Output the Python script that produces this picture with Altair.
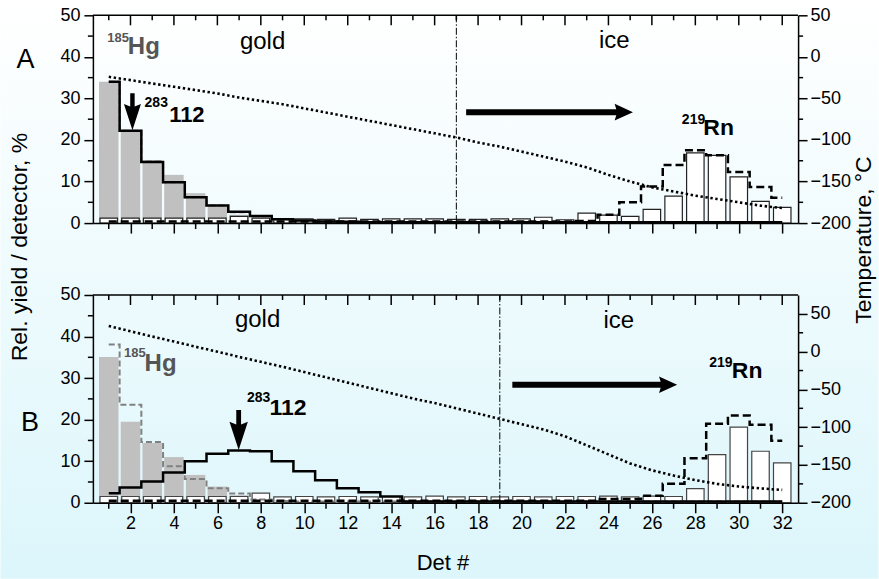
import altair as alt
import pandas as pd

# ---------------- data ----------------
dets = list(range(1, 33))
major_x = list(range(2, 33, 2))
minor_x = list(range(1, 33, 2))
left_major = [0, 10, 20, 30, 40, 50]
left_minor = [5, 15, 25, 35, 45]
temp_major = [-200, -150, -100, -50, 0, 50]
temp_minor = [-175, -125, -75, -25, 25]

# Panel A
a_hg_data = [34.0, 22.0, 15.2, 11.6, 7.2, 4.0, 2.0, 1.0, 0.5, 0.3] + [0.0] * 22
a_rn_data = [1.2, 1.2, 1.2, 1.2, 1.2, 1.2, 1.6, 1.2, 0.9, 1.0, 0.9, 1.2, 0.9, 1.0, 1.0, 1.0,
             0.9, 0.9, 1.0, 1.0, 1.4, 0.8, 2.4, 1.9, 1.6, 3.3, 6.5, 16.9, 16.3, 11.1, 5.2, 3.8]
a_hg_sim = [34.0, 22.2, 14.8, 9.8, 6.2, 4.2, 2.6, 1.6, 0.9, 0.6, 0.4, 0.3] + [0.2] * 20
a_e112 = [34.0, 22.2, 14.7, 9.8, 6.2, 4.2, 2.7, 1.7, 0.9, 0.6, 0.4, 0.3] + [0.2] * 20
a_rn_sim = [0.4] * 22 + [0.5, 2.0, 5.0, 8.8, 14.0, 17.5, 16.3, 12.3, 8.7, 6.1]
a_temp = [-24, -28, -32, -36, -40, -44, -49, -53, -57, -62, -67, -72, -77, -82, -87, -92,
          -97, -103, -108, -114, -120, -126, -133, -142, -150, -157, -162, -167, -171, -175, -179, -182]

# Panel B
b_hg_data = [35.1, 19.5, 14.4, 11.0, 6.7, 3.9, 1.8, 0.6] + [0.0] * 24
b_rn_data = [1.5] * 7 + [2.3] + [1.4, 1.5, 1.4, 1.5, 1.4, 1.5, 1.4, 1.6, 1.4, 1.5, 1.4, 1.5, 1.4, 1.5,
                                 1.5, 1.6, 1.4, 1.6, 1.5, 3.4, 11.6, 18.2, 12.4, 9.6]
b_hg_sim = [38.1, 23.6, 14.6, 8.8, 5.7, 3.5, 2.2, 0.8, 0.4] + [0.3] * 23
b_e112 = [2.3, 3.7, 5.1, 7.3, 10.0, 11.8, 12.6, 12.4, 10.0, 7.6, 5.4, 3.5, 2.5, 1.5] + [0.3] * 18
b_rn_sim = [0.5] * 23 + [0.9, 0.9, 1.7, 4.6, 10.7, 19.0, 21.0, 18.8, 14.9]
b_temp = [34, 27, 20, 13.5, 6.5, 0, -7, -13.5, -20, -27, -34, -41, -48, -55, -62, -68,
          -75, -82, -89, -96, -103, -112, -124, -136, -148, -157, -164, -170, -175, -178.5, -181, -183]

# annotations (data coordinates: detector #, yield %)
a_gold = {"t": ["gold", "ice"], "x": [8.08, 24.27], "y": [41.9, 42.1]}
a_hg = {"t": ["185", "Hg"], "x": [0.93, 1.88], "y": [43.5, 40.8], "fs": [13, 24]}
a_bold = {"t": ["283", "112", "219", "Rn"], "x": [2.65, 3.78, 27.38, 28.37],
          "y": [27.9, 24.3, 23.8, 21.2], "fs": [14, 22, 14, 23]}
a_down = {"x": [2.09], "y": [26.8], "s": [37]}
a_right = {"x": [21.29], "y": [26.7], "s": [167]}

b_gold = {"t": ["gold", "ice"], "x": [7.85, 24.48], "y": [42.3, 42.1]}
b_hg = {"t": ["185", "Hg"], "x": [1.70, 2.65], "y": [35.0, 31.6], "fs": [13, 24]}
b_bold = {"t": ["283", "112", "219", "Rn"], "x": [7.36, 8.40, 28.64, 29.68],
          "y": [24.3, 21.2, 32.7, 30.0], "fs": [14, 23, 14, 23]}
b_down = {"x": [6.98], "y": [17.5], "s": [40]}
b_right = {"x": [23.37], "y": [28.4], "s": [165]}

# ---------------- layout ----------------
W, H = 706, 208
LEFT, TOP = 92.5, 15
PAGE_W, PAGE_H = 879, 579
GAP = 72
FONT = "Liberation Sans"

DOWN_ARROW = "M-0.12,-1 L0.12,-1 L0.12,-0.28 L0.46,-0.42 L0,1 L-0.46,-0.42 L-0.12,-0.28 Z"
RIGHT_ARROW = "M-1,-0.036 L0.8,-0.036 L0.78,-0.1 L1,0 L0.78,0.1 L0.8,0.036 L-1,0.036 Z"

xscale = alt.Scale(domain=[0.5, 32.5], nice=False, zero=False)
yscale = alt.Scale(domain=[0, 50], nice=False, zero=False)

AX = dict(labelFont=FONT, labelFontSize=18, labelColor="black", tickColor="black",
          tickWidth=1.5, domainColor="black", domainWidth=1.5, grid=False, zindex=2,
          labelFlush=False, labelOverlap=False)


def x_enc(field, labels):
    return alt.X(f"{field}:Q", scale=xscale, title=None,
                 axis=alt.Axis(values=major_x, tickSize=10, labels=labels, labelPadding=2,
                               format="d", **AX))


def y_left(field):
    return alt.Y(f"{field}:Q", scale=yscale, title=None,
                 axis=alt.Axis(values=left_major, tickSize=9, labelPadding=4, **AX))


def one():
    return alt.Chart(pd.DataFrame({"a": [0]}))


def panel(hg, rn, hgsim, e112, rnsim, temp, tdomain, vline, gold, hgl, bold, down, right,
          labels, bar_stroke, extra):
    df = pd.DataFrame({"det": dets, "hg": hg, "rn": rn, "hgsim": hgsim, "e112": e112,
                       "rnsim": rnsim, "temp": temp})
    base = alt.Chart(df)
    X = lambda f="det": x_enc(f, labels)

    layers = list(extra)
    layers.append(base.mark_bar(size=19.5, color="#c0c0c0").encode(x=X(), y=y_left("hg")))
    layers.append(base.mark_bar(size=17.5, fill="white", stroke=bar_stroke, strokeWidth=1.2)
                  .encode(x=X(), y=y_left("rn")))
    layers.append(base.mark_line(interpolate="step", color="#808080", strokeWidth=2,
                                 strokeDash=[6, 3]).encode(x=X(), y=y_left("hgsim")))
    layers.append(base.mark_line(interpolate="step", color="black", strokeWidth=2.5,
                                 strokeDash=[8, 4]).encode(x=X(), y=y_left("rnsim")))
    layers.append(base.mark_line(interpolate="step", color="black", strokeWidth=2.5)
                  .encode(x=X(), y=y_left("e112")))
    layers.append(alt.Chart(pd.DataFrame({"x": [vline]}))
                  .mark_rule(color="black", strokeWidth=1, strokeDash=[7, 2, 1.5, 2])
                  .encode(x=X("x")))
    # frame top + ticks
    layers.append(one().mark_rule(color="black", strokeWidth=1.5)
                  .encode(x=alt.value(0), x2=alt.value(W), y=alt.value(0)))
    layers.append(alt.Chart(pd.DataFrame({"x": major_x})).mark_rule(color="black", strokeWidth=1.5)
                  .encode(x=X("x"), y=alt.value(0), y2=alt.value(10)))
    layers.append(alt.Chart(pd.DataFrame({"x": minor_x})).mark_rule(color="black", strokeWidth=1.5)
                  .encode(x=X("x"), y=alt.value(0), y2=alt.value(5)))
    layers.append(alt.Chart(pd.DataFrame({"x": minor_x})).mark_rule(color="black", strokeWidth=1.5)
                  .encode(x=X("x"), y=alt.value(H), y2=alt.value(H + 6)))
    layers.append(alt.Chart(pd.DataFrame({"v": left_minor})).mark_rule(color="black", strokeWidth=1.5)
                  .encode(y=y_left("v"), x=alt.value(-5), x2=alt.value(0)))
    # text annotations
    layers.append(alt.Chart(pd.DataFrame(gold)).mark_text(align="center", baseline="alphabetic",
                                                           fontSize=24, font=FONT, color="black")
                  .encode(x=X("x"), y=y_left("y"), text="t:N"))
    layers.append(alt.Chart(pd.DataFrame(hgl)).mark_text(align="left", baseline="alphabetic",
                                                          fontWeight="bold", font=FONT, color="#555555")
                  .encode(x=X("x"), y=y_left("y"), text="t:N", size=alt.Size("fs:Q", scale=None)))
    layers.append(alt.Chart(pd.DataFrame(bold)).mark_text(align="left", baseline="alphabetic",
                                                           fontWeight="bold", font=FONT, color="black")
                  .encode(x=X("x"), y=y_left("y"), text="t:N", size=alt.Size("fs:Q", scale=None)))
    # arrows
    layers.append(alt.Chart(pd.DataFrame(down)).mark_point(shape=DOWN_ARROW, filled=True, color="black",
                                                            opacity=1, strokeWidth=0)
                  .encode(x=X("x"), y=y_left("y"),
                          size=alt.Size("s2:Q", scale=None)).transform_calculate(s2="datum.s*datum.s"))
    layers.append(alt.Chart(pd.DataFrame(right)).mark_point(shape=RIGHT_ARROW, filled=True, color="black",
                                                             opacity=1, strokeWidth=0)
                  .encode(x=X("x"), y=y_left("y"),
                          size=alt.Size("s2:Q", scale=None)).transform_calculate(s2="datum.s*datum.s"))

    left_group = alt.layer(*layers)

    tscale = alt.Scale(domain=tdomain, nice=False, zero=False)
    Yt = lambda f: alt.Y(f"{f}:Q", scale=tscale, title=None,
                         axis=alt.Axis(orient="right", values=temp_major, tickSize=9, labelPadding=3, **AX))
    temp_line = base.mark_line(color="black", strokeWidth=2.6, strokeDash=[2.4, 2.6]).encode(x=X(), y=Yt("temp"))
    tminor = (alt.Chart(pd.DataFrame({"t": temp_minor})).mark_rule(color="black", strokeWidth=1.5)
              .encode(y=Yt("t"), x=alt.value(W), x2=alt.value(W + 5)))
    right_group = alt.layer(temp_line, tminor)

    return alt.layer(left_group, right_group).resolve_scale(y="independent").properties(width=W, height=H)


gradient = alt.Gradient(gradient="linear", x1=0, y1=0, x2=0, y2=1,
                        stops=[alt.GradientStop(color="#ffffff", offset=0),
                               alt.GradientStop(color="#dcf6fb", offset=1)])

bg = (one().mark_rect(fill=gradient, strokeWidth=0)
      .encode(x=alt.value(-LEFT), x2=alt.value(PAGE_W - LEFT), y=alt.value(-TOP), y2=alt.value(PAGE_H - TOP)))

a_titles = [
    one().mark_text(text="A", fontSize=27, font=FONT, color="black", align="center", baseline="middle")
    .encode(x=alt.value(25 - LEFT), y=alt.value(60 - TOP)),
    one().mark_text(text="Rel. yield / detector, %", fontSize=23, font=FONT, color="black",
                    align="center", baseline="middle", angle=270)
    .encode(x=alt.value(20 - LEFT), y=alt.value(247 - TOP)),
    one().mark_text(text="Temperature, °C", fontSize=23, font=FONT, color="black",
                    align="center", baseline="middle", angle=270)
    .encode(x=alt.value(864 - LEFT), y=alt.value(240 - TOP)),
]
B_TOP = TOP + H + GAP
b_titles = [
    one().mark_text(text="B", fontSize=27, font=FONT, color="black", align="center", baseline="middle")
    .encode(x=alt.value(29.5 - LEFT), y=alt.value(423 - B_TOP)),
    one().mark_text(text="Det #", fontSize=22, font=FONT, color="black", align="center", baseline="middle")
    .encode(x=alt.value(443 - LEFT), y=alt.value(563 - B_TOP)),
]

chart_a = panel(a_hg_data, a_rn_data, a_hg_sim, a_e112, a_rn_sim, a_temp, [-200, 50], 17,
                a_gold, a_hg, a_bold, a_down, a_right, False, "#222222", [bg] + a_titles)
chart_b = panel(b_hg_data, b_rn_data, b_hg_sim, b_e112, b_rn_sim, b_temp, [-200, 75], 19,
                b_gold, b_hg, b_bold, b_down, b_right, True, "#444444", b_titles)

chart = (alt.vconcat(chart_a, chart_b, spacing=GAP, bounds="flush")
         .properties(padding=0, background="white")
         .configure_view(stroke="transparent", strokeWidth=0))

chart.save("out.html", embed_options={"renderer": "svg", "actions": False})
